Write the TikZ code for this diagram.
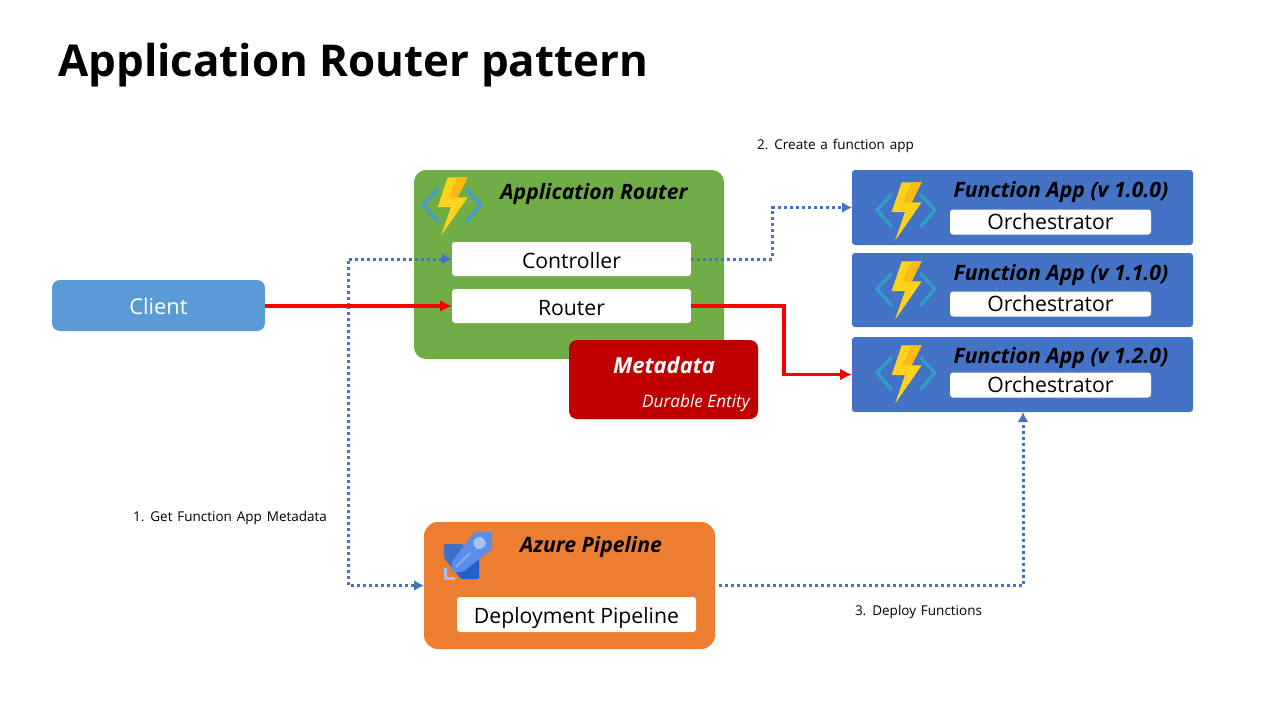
\documentclass[tikz,border=0pt]{standalone}
\usepackage{fontspec}
\setmainfont{Open Sans}
\usetikzlibrary{arrows.meta,calc}
\definecolor{grn}{HTML}{70AD47}
\definecolor{blu}{HTML}{4472C4}
\definecolor{sky}{HTML}{5B9BD5}
\definecolor{org}{HTML}{ED7D31}
\definecolor{drk}{HTML}{C00000}
\definecolor{dotb}{HTML}{4472C4}
\definecolor{brk}{HTML}{3F9BD0}
\definecolor{brkb}{HTML}{2F9FC8}
\definecolor{boltl}{HTML}{FFD31C}
\definecolor{boltd}{HTML}{FBB915}
\newcommand{\notefont}{\fontsize{13.5}{15}\selectfont\spaceskip=0.36em\relax}
\tikzset{
 box/.style={rectangle,fill=#1,draw=none,inner sep=0pt,outer sep=0pt,anchor=north west},
 whitebox/.style={box=white,rounded corners=3pt,text=black,font=\fontsize{21.2}{24}\selectfont,anchor=center},
 lowtext/.style={text height=20pt,text depth=2pt},
 head/.style={font=\fontsize{21.2}{24}\selectfont\bfseries\itshape,text=black,inner sep=0pt,anchor=center},
 note/.style={font=\notefont,text=black,inner sep=0pt,anchor=center},
 dotline/.style={draw=dotb,line width=3pt,dash pattern=on 3pt off 3pt,-{Latex[length=10pt,width=11pt,fill=dotb,sep=0pt]}},
 redline/.style={draw=red,line width=3.6pt,-{Latex[length=12pt,width=12pt,fill=red]}},
 azbolt/.pic={
  \draw[#1,line width=3.3pt] (-14,-17) -- (-29,-1) -- (-14,16);
  \draw[#1,line width=3.3pt] (14,-17) -- (29,-1) -- (14,16);
  \fill[boltl] (-4.3,-28.7) -- (15.7,-28.7) -- (5.7,-8.7) -- (15.7,-8.7) -- (-11,29.7) -- (-1,1) -- (-14.3,1) -- cycle;
  \fill[boltd] (5.5,-28.7) -- (15.7,-28.7) -- (5.7,-8.7) -- (-3.5,-8.7) -- cycle;
 }
}
\begin{document}
\begin{tikzpicture}[x=1pt,y=-1pt]
\useasboundingbox (0,0) rectangle (1280,720);
\fill[white] (0,0) rectangle (1280,720);

\node[font=\fontsize{43.9}{50}\selectfont\bfseries,inner sep=0pt,anchor=west] (title) at (58,65) {Application Router pattern};

% panels
\node[box=grn,rounded corners=12pt,minimum width=310pt,minimum height=189pt] (router) at (414,170) {};
\node[box=sky,rounded corners=8pt,minimum width=213pt,minimum height=51pt,text=white,font=\fontsize{21.8}{24}\selectfont,anchor=center,lowtext] (client) at (158.5,305.5) {Client};
\node[box=drk,rounded corners=8pt,minimum width=189pt,minimum height=79pt] (meta) at (569,340) {};
\node[box=org,rounded corners=14pt,minimum width=291pt,minimum height=127pt] (pipe) at (424,522) {};
\node[box=blu,rounded corners=3pt,minimum width=341pt,minimum height=75pt] (fa1) at (852,170) {};
\node[box=blu,rounded corners=3pt,minimum width=341pt,minimum height=74pt] (fa2) at (852,253) {};
\node[box=blu,rounded corners=3pt,minimum width=341pt,minimum height=75pt] (fa3) at (852,337) {};

% inner boxes
\node[whitebox,lowtext,minimum width=239pt,minimum height=34pt] (ctrl) at (571.5,259) {Controller};
\node[whitebox,lowtext,minimum width=239pt,minimum height=34pt] (rt) at (571.5,306) {Router};
\node[whitebox,lowtext,text depth=3pt,minimum width=239pt,minimum height=35pt] (dp) at (576.5,614.5) {Deployment Pipeline};
\node[whitebox,minimum width=201pt,minimum height=25pt] (o1) at (1050.5,222) {Orchestrator};
\node[whitebox,minimum width=201pt,minimum height=25pt] (o2) at (1050.5,304) {Orchestrator};
\node[whitebox,minimum width=201pt,minimum height=25pt] (o3) at (1050.5,385) {Orchestrator};

% headings
\node[head] (h0) at (594,193.5) {Application Router};
\node[head] (h1) at (1061,191.5) {Function App (v 1.0.0)};
\node[head] (h2) at (1061,274.5) {Function App (v 1.1.0)};
\node[head] (h3) at (1061,357.5) {Function App (v 1.2.0)};
\node[head] (h4) at (591,546.5) {Azure Pipeline};
\node[head,text=white,font=\fontsize{22}{24}\selectfont\bfseries\itshape] (h5) at (664,365) {Metadata};
\node[inner sep=0pt,text=white,anchor=east,font=\fontsize{17.2}{18}\selectfont\itshape] (h6) at (750,403.5) {Durable Entity};

% icons
\pic at (452,206) {azbolt=brk};
\pic at (906,211) {azbolt=brkb};
\pic at (906,290) {azbolt=brkb};
\pic at (906,374) {azbolt=brkb};

% pipeline icon
\fill[rounded corners=1.5pt,fill={rgb,255:red,62;green,112;blue,200}] (444,544) -- (462,544) -- (479,558) -- (479,579) -- (461,579) -- (444,558) -- cycle;
\fill[rounded corners=1.5pt,fill={rgb,255:red,37;green,96;blue,207}] (479,558) -- (479,579) -- (461,579) -- (456,572) -- (470,558) -- cycle;
\fill[rounded corners=2pt,fill={rgb,255:red,91;green,141;blue,235}] (475,532) -- (492,532) -- (492,549) -- (463,572) -- (452,572) -- (452,561) -- cycle;
\fill[fill={rgb,255:red,169;green,194;blue,245}] (479.5,543) circle (6pt);
\draw[line width=2pt,draw={rgb,255:red,143;green,176;blue,240}] (456,567) -- (470,553);
\draw[line width=3pt,draw={rgb,255:red,165;green,192;blue,245}] (445.5,568) -- (445.5,578.5) -- (455,578.5);

% connectors
\coordinate (j) at (348,306);
\draw[dotline] (j) |- (ctrl.west);
\draw[dotline] (j) |- (pipe.west);
\draw[redline] (client.east |- rt.west) -- (rt.west);
\coordinate (c1) at (772,259);
\coordinate (c2) at (772,207.5);
\draw[dotline] (ctrl.east) -- (c1) -- (c2) -- (fa1.west);
\coordinate (r1) at (784,306);
\coordinate (r2) at (784,374.5);
\draw[redline] (rt.east) -- (r1) -- (r2) -- (fa3.west);
\coordinate (p1) at (1023,585.5);
\coordinate (p0) at (719,585.5);
\draw[dotline] (p0) -- (p1) -- (fa3.south -| p1);

% notes
\node[note] (n1) at (230,518) {1. Get Function App Metadata};
\node[note] (n2) at (835.5,146) {2. Create a function app};
\node[note] (n3) at (918.5,612) {3. Deploy Functions};
\end{tikzpicture}
\end{document}
